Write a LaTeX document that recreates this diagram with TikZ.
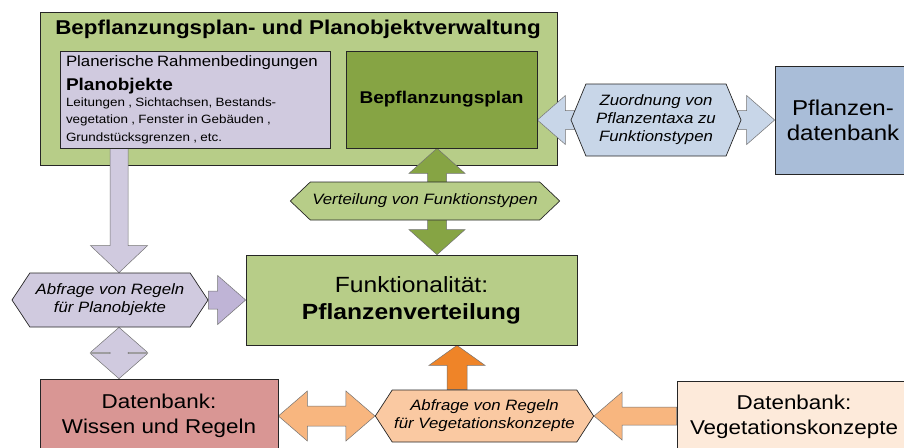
\documentclass[tikz,border=0pt]{standalone}
\usepackage{fontspec}
\setmainfont[FakeStretch=1.12]{Liberation Sans}
\usetikzlibrary{calc,shapes.symbols,backgrounds}

\definecolor{gruenHell}{HTML}{B7CD88}
\definecolor{gruenDunkel}{HTML}{86A444}
\definecolor{lilaHell}{HTML}{D0CADF}
\definecolor{lilaDunkel}{HTML}{BFB4D6}
\definecolor{blauBox}{HTML}{A9BDD8}
\definecolor{blauHell}{HTML}{C8D6E8}
\definecolor{rotBox}{HTML}{D99694}
\definecolor{orangeHell}{HTML}{F8B67F}
\definecolor{orangeSechs}{HTML}{FAC9A2}
\definecolor{orangeDunkel}{HTML}{EF8428}
\definecolor{beigeBox}{HTML}{FDEADA}

% Blockpfeil: Farbe, Start, Spitze, halbe Schaftbreite, halbe Kopfbreite, Kopflaenge
\newcommand\einzelpfeil[6]{%
  \coordinate (hb) at ($(#3)!#6!(#2)$);
  \draw[pfeil, fill=#1] ($(#2)!#4!90:(#3)$) -- ($(hb)!#4!90:(#3)$) -- ($(hb)!#5!90:(#3)$) -- (#3)
    -- ($(hb)!#5!-90:(#3)$) -- ($(hb)!#4!-90:(#3)$) -- ($(#2)!#4!-90:(#3)$) -- cycle;
}
% Doppelpfeil mit gleichen Parametern
\newcommand\doppelpfeil[6]{%
  \coordinate (ha) at ($(#2)!#6!(#3)$);
  \coordinate (hb) at ($(#3)!#6!(#2)$);
  \draw[pfeil, fill=#1] (#2) -- ($(ha)!#5!90:(#3)$) -- ($(ha)!#4!90:(#3)$) -- ($(hb)!#4!90:(#3)$)
    -- ($(hb)!#5!90:(#3)$) -- (#3) -- ($(hb)!#5!-90:(#3)$) -- ($(hb)!#4!-90:(#3)$)
    -- ($(ha)!#4!-90:(#3)$) -- ($(ha)!#5!-90:(#3)$) -- cycle;
}

\begin{document}
\begin{tikzpicture}[x=1pt, y=-1pt,
    % Stil fuer die Kaesten
    kasten/.style={rectangle, draw=black!85, line width=0.7pt, inner sep=4pt, align=center},
    % Stil fuer die Sechsecke
    sechseck/.style={signal, signal to=west and east, draw=black!85, line width=0.7pt, inner sep=2pt,
        align=center, font=\fontsize{15}{18}\selectfont\itshape},
    pfeil/.style={draw=black!55, line width=0.5pt}
]
    \useasboundingbox (0,0) rectangle (904,447);

    % Rahmen fuer Planung
    \begin{scope}[on background layer]
        \node[kasten, fill=gruenHell, minimum width=517pt, minimum height=153pt] (verw) at (298.5,88.5) {};
    \end{scope}
    \node[font=\fontsize{20}{24}\selectfont\bfseries] (titel) at (298,29) {Bepflanzungsplan- und Planobjektverwaltung};

    \node[kasten, fill=lilaHell, minimum width=270pt, minimum height=97pt, text width=258pt, align=left] (planobj) at (195,99.5)
        {{\fontsize{15}{18}\selectfont Planerische Rahmenbedingungen\par}
         {\fontsize{17}{24}\selectfont\bfseries Planobjekte\par}
         {\fontsize{12}{16.5}\selectfont Leitungen , Sichtachsen, Bestands-\\ vegetation , Fenster in Gebäuden ,\\[1.5pt] Grundstücksgrenzen , etc.\par}};
    \node[kasten, fill=gruenDunkel, minimum width=191pt, minimum height=97pt,
        font=\fontsize{17}{20}\selectfont\bfseries] (bepfl) at (441.5,99.5) {Bepflanzungsplan};

    % rechte Seite
    \node[kasten, fill=blauBox, minimum width=136pt, minimum height=108pt,
        font=\fontsize{21.5}{25}\selectfont] (pflDB) at (843,120) {Pflanzen-\\datenbank};
    \node[sechseck, fill=blauHell, minimum width=170pt, minimum height=72pt, signal pointer angle=135] (zuord) at (656,120)
        {Zuordnung von\\Pflanzentaxa zu\\Funktionstypen};

    % Mitte
    \node[kasten, fill=gruenHell, minimum width=331pt, minimum height=90pt,
        font=\fontsize{22}{27}\selectfont] (funkt) at (411.5,300) {Funktionalität:\\\textbf{Pflanzenverteilung}};
    \node[sechseck, fill=gruenHell, minimum width=264pt, minimum height=38pt, signal pointer angle=87] (verteil) at (425,201)
        {Verteilung von Funktionstypen};
    \node[sechseck, fill=lilaHell, minimum width=196pt, minimum height=54pt, signal pointer angle=113] (abfrPlan) at (110,300)
        {Abfrage von Regeln\\für Planobjekte};

    % unten
    \node[kasten, fill=rotBox, minimum width=238pt, minimum height=74pt,
        font=\fontsize{20}{25}\selectfont] (wissenDB) at (159,416) {Datenbank:\\Wissen und Regeln};
    \node[sechseck, fill=orangeSechs, minimum width=205pt, minimum height=52pt, signal pointer angle=114] (abfrVeg) at (484.5,416)
        {Abfrage von Regeln\\für Vegetationskonzepte};
    \node[kasten, fill=beigeBox, minimum width=234pt, minimum height=72pt,
        font=\fontsize{20}{25}\selectfont] (vegDB) at (794,417) {Datenbank:\\Vegetationskonzepte};

    % Pfeile hinter den Knoten
    \begin{scope}[on background layer]
        \coordinate (pA) at ([xshift=-76pt]planobj.south);
        \coordinate (pAz) at (pA |- abfrPlan.north);
        \coordinate (pB) at (pA |- abfrPlan.south);
        \coordinate (pBz) at (pA |- wissenDB.north);
        \coordinate (gA) at ([xshift=-4.5pt]bepfl.south);
        \coordinate (gAz) at (gA |- funkt.north);
        \coordinate (bA) at (bepfl.east |- zuord.west);
        \coordinate (oA) at ([xshift=-27.5pt]abfrVeg.north);
        \coordinate (oAz) at (oA |- funkt.south);
        \coordinate (wA) at (wissenDB.east |- abfrVeg.west);
        \coordinate (vA) at (vegDB.west |- abfrVeg.east);

        \einzelpfeil{lilaHell}{pA}{pAz}{9pt}{28.5pt}{27pt}
        \einzelpfeil{lilaDunkel}{abfrPlan.east}{funkt.west}{9pt}{24.5pt}{28pt}
        \doppelpfeil{lilaHell}{pB}{pBz}{9pt}{28.5pt}{25pt}
        \doppelpfeil{gruenDunkel}{gA}{gAz}{9.5pt}{28pt}{25pt}
        \doppelpfeil{blauHell}{bA}{pflDB.west}{9.5pt}{24.5pt}{28pt}
        \doppelpfeil{orangeHell}{wA}{abfrVeg.west}{10pt}{25pt}{29pt}
        \einzelpfeil{orangeHell}{vA}{abfrVeg.east}{9pt}{24pt}{28pt}
        \einzelpfeil{orangeDunkel}{oA}{oAz}{10pt}{28pt}{20pt}
    \end{scope}

\end{tikzpicture}
\end{document}
